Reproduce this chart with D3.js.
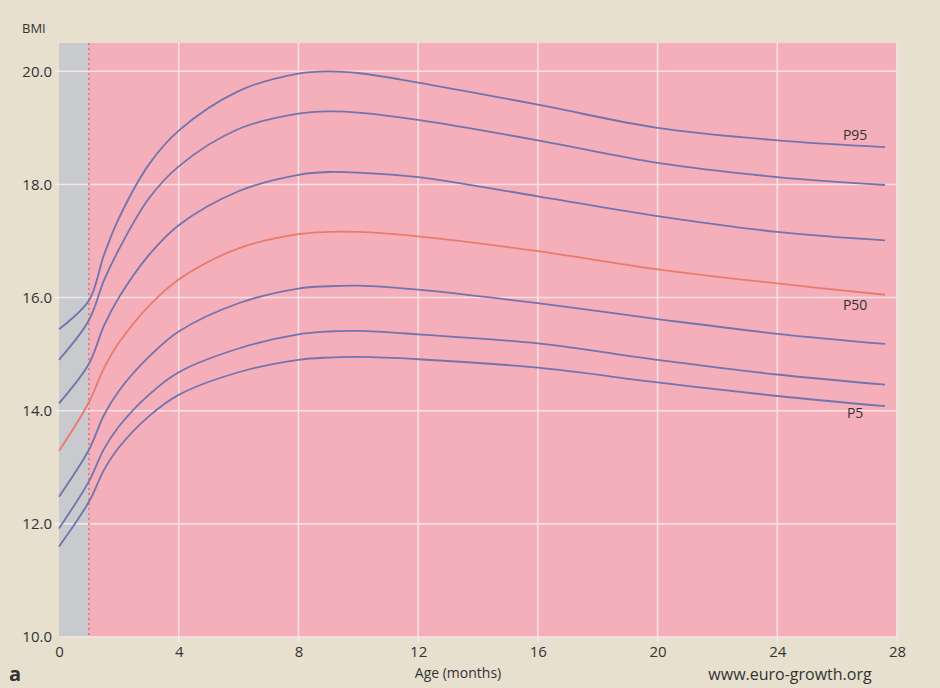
<!DOCTYPE html>
<html>
<head>
<meta charset="utf-8">
<script src="https://cdn.jsdelivr.net/npm/d3@7"></script>
<style>
  html, body { margin: 0; padding: 0; background: #e7e0ce; }
  svg { display: block; }
  text { font-family: "Open Sans", "Noto Sans", sans-serif; fill: #333; }
</style>
</head>
<body>
<svg id="chart" width="940" height="688"></svg>
<script>
const ages = [0, 1, 1.5, 2, 3, 4, 6, 8, 9, 10, 12, 16, 20, 24, 27.6];
const p95 = [15.44, 15.95, 16.75, 17.40, 18.35, 18.95, 19.65, 19.96, 20.00, 19.97, 19.80, 19.41, 19.00, 18.78, 18.66];
const p90 = [14.90, 15.60, 16.30, 16.85, 17.75, 18.32, 18.98, 19.25, 19.29, 19.27, 19.14, 18.78, 18.38, 18.13, 17.99];
const p75 = [14.13, 14.83, 15.50, 16.00, 16.75, 17.28, 17.88, 18.17, 18.22, 18.21, 18.13, 17.79, 17.44, 17.16, 17.01];
const p50 = [13.29, 14.15, 14.75, 15.20, 15.85, 16.32, 16.87, 17.12, 17.16, 17.16, 17.08, 16.82, 16.50, 16.25, 16.05];
const p25 = [12.48, 13.31, 13.92, 14.35, 14.95, 15.40, 15.90, 16.16, 16.20, 16.21, 16.14, 15.90, 15.62, 15.36, 15.18];
const p10 = [11.92, 12.75, 13.32, 13.72, 14.28, 14.68, 15.10, 15.35, 15.40, 15.41, 15.35, 15.19, 14.90, 14.64, 14.46];
const p5  = [11.60, 12.39, 12.95, 13.35, 13.90, 14.28, 14.68, 14.90, 14.94, 14.95, 14.91, 14.76, 14.50, 14.26, 14.08];

const xTicks = [0, 4, 8, 12, 16, 20, 24, 28];
const yTicks = [10, 12, 14, 16, 18, 20];
const curveLabels = [
  {text: "P95", age: 26.6, value: 18.86},
  {text: "P50", age: 26.6, value: 15.85},
  {text: "P5",  age: 26.6, value: 13.94}
];
const grayEnd = 1;

const series = [
  {name: "P95", values: p95, main: false},
  {name: "P90", values: p90, main: false},
  {name: "P75", values: p75, main: false},
  {name: "P50", values: p50, main: true},
  {name: "P25", values: p25, main: false},
  {name: "P10", values: p10, main: false},
  {name: "P5",  values: p5,  main: false}
];

const svg = d3.select("#chart");
const x = d3.scaleLinear().domain([0, 28]).range([59, 897]);
const y = d3.scaleLinear().domain([10, 20.5]).range([637, 43]);

// plot backgrounds
svg.append("rect").attr("x", x(0)).attr("y", y(20.5))
  .attr("width", x(28) - x(0)).attr("height", y(10) - y(20.5))
  .attr("fill", "#f4afba");
svg.append("rect").attr("x", x(0)).attr("y", y(20.5))
  .attr("width", x(grayEnd) - x(0)).attr("height", y(10) - y(20.5))
  .attr("fill", "#c9cacd");

// grid
const grid = svg.append("g").attr("stroke", "#fbeef0").attr("stroke-width", 1.6).attr("opacity", 0.8);
xTicks.filter(t => t > 0 && t < 28).forEach(t => {
  grid.append("line").attr("x1", x(t)).attr("x2", x(t)).attr("y1", y(20.5)).attr("y2", y(10) + 5);
});
yTicks.filter(t => t > 10).forEach(t => {
  grid.append("line").attr("x1", x(0) - 4).attr("x2", x(28)).attr("y1", y(t)).attr("y2", y(t));
});
svg.append("line").attr("x1", x(0)).attr("x2", x(28)).attr("y1", y(10)).attr("y2", y(10))
  .attr("stroke", "#f6e6e3").attr("stroke-width", 1.5);
svg.append("line").attr("x1", x(28)).attr("x2", x(28)).attr("y1", y(20.5)).attr("y2", y(10) + 5)
  .attr("stroke", "#f6e6e3").attr("stroke-width", 1.5);

// dotted line at 1 month
svg.append("line").attr("x1", x(grayEnd)).attr("x2", x(grayEnd)).attr("y1", y(20.5)).attr("y2", y(10))
  .attr("stroke", "#d9707e").attr("stroke-width", 1.5).attr("stroke-dasharray", "2,3");

// axes
const xAxis = d3.axisBottom(x).tickValues(xTicks).tickFormat(d3.format("d")).tickSize(0).tickPadding(9);
const gx = svg.append("g").attr("transform", `translate(0,${y(10)})`).call(xAxis);
gx.select(".domain").remove();
gx.selectAll("text").attr("font-size", 15).attr("fill", "#333");

const yAxis = d3.axisLeft(y).tickValues(yTicks).tickFormat(d3.format(".1f")).tickSize(0).tickPadding(7);
const gy = svg.append("g").attr("transform", `translate(${x(0)},0)`).call(yAxis);
gy.select(".domain").remove();
gy.selectAll("text").attr("font-size", 15).attr("fill", "#333");

// lines
const line = d3.line()
  .x((d, i) => x(ages[i]))
  .y(d => y(d))
  .curve(d3.curveCatmullRom.alpha(0.5));

svg.append("g").selectAll("path").data(series).join("path")
  .attr("d", d => line(d.values))
  .attr("fill", "none")
  .attr("stroke", d => d.main ? "#e97a6c" : "#7373ad")
  .attr("stroke-width", 1.8)
  .attr("stroke-linejoin", "round");

// curve labels
svg.append("g").selectAll("text").data(curveLabels).join("text")
  .attr("x", d => x(d.age)).attr("y", d => y(d.value))
  .attr("text-anchor", "middle").attr("dominant-baseline", "middle")
  .attr("font-size", 14).text(d => d.text);

// titles
svg.append("text").attr("x", 22).attr("y", 33).attr("font-size", 13).text("BMI");
svg.append("text").attr("x", 458).attr("y", 678).attr("text-anchor", "middle")
  .attr("font-size", 14).text("Age (months)");
svg.append("text").attr("x", 790).attr("y", 680).attr("text-anchor", "middle")
  .attr("font-size", 16).text("www.euro-growth.org");
svg.append("text").attr("x", 9).attr("y", 681).attr("font-size", 20)
  .attr("font-weight", "bold").text("a");
</script>
</body>
</html>
